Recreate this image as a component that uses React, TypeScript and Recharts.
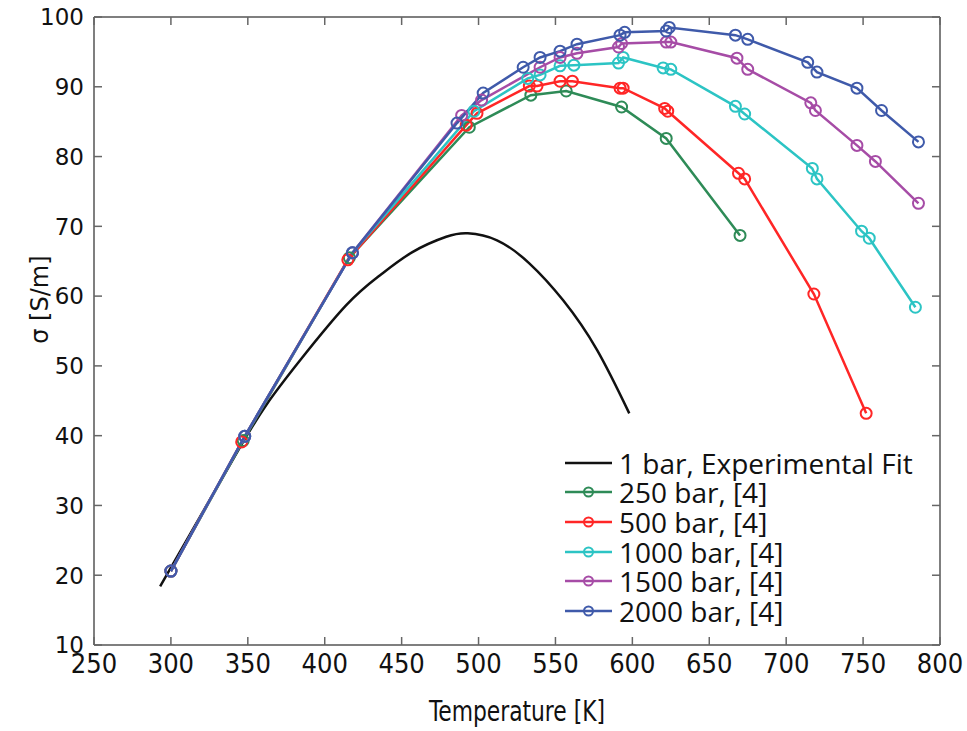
import React from "react";
import { LineChart, Line, XAxis, YAxis, Legend } from "recharts";

// temperature [K], sigma [S/m]
const fit1bar = [
  [293, 18.4], [319, 28.4], [344, 38.0], [362, 44.4], [384, 50.8], [414, 58.7],
  [436, 63.0], [457, 66.3], [479, 68.5], [493, 69.0], [512, 68.0], [533, 64.7],
  [555, 59.4], [577, 52.3], [598, 43.2],
];
const bar250 = [
  [300, 20.6], [347, 39.3], [416, 65.5], [494, 84.2], [534, 88.8], [557, 89.4],
  [593, 87.1], [622, 82.6], [670, 68.7],
];
const bar500 = [
  [300, 20.6], [346, 39.1], [415, 65.2], [492, 84.5], [499, 86.2], [533, 90.1],
  [538, 90.1], [553, 90.8], [561, 90.8], [592, 89.8], [594, 89.8], [621, 86.9],
  [623, 86.5], [669, 77.6], [673, 76.8], [718, 60.3], [752, 43.2],
];
const bar1000 = [
  [300, 20.6], [348, 39.9], [418, 66.2], [497, 86.5], [532, 91.2], [540, 91.7],
  [553, 93.0], [562, 93.1], [591, 93.4], [594, 94.2], [620, 92.7], [625, 92.5],
  [667, 87.2], [673, 86.1], [717, 78.3], [720, 76.8], [749, 69.3], [754, 68.3],
  [784, 58.4],
];
const bar1500 = [
  [300, 20.6], [348, 39.9], [418, 66.2], [489, 85.9], [502, 88.1], [540, 92.8],
  [553, 94.2], [564, 94.8], [591, 95.7], [593, 96.2], [622, 96.4], [625, 96.4],
  [668, 94.1], [675, 92.5], [716, 87.7], [719, 86.6], [746, 81.6], [758, 79.3],
  [786, 73.3],
];
const bar2000 = [
  [300, 20.6], [348, 39.9], [418, 66.2], [486, 84.8], [503, 89.1], [529, 92.8],
  [540, 94.2], [553, 95.1], [564, 96.1], [592, 97.4], [595, 97.8], [622, 98.0],
  [624, 98.5], [667, 97.4], [675, 96.8], [714, 93.5], [720, 92.1], [746, 89.8],
  [762, 86.6], [786, 82.1],
];

const seriesNames = [
  "1 bar, Experimental Fit",
  "250 bar, [4]",
  "500 bar, [4]",
  "1000 bar, [4]",
  "1500 bar, [4]",
  "2000 bar, [4]",
];
const seriesData = [fit1bar, bar250, bar500, bar1000, bar1500, bar2000];
const seriesColors = ["#111111", "#2e8b57", "#ff2626", "#2cc4c4", "#a64ca6", "#3f5aaa"];

const xTicks = [250, 300, 350, 400, 450, 500, 550, 600, 650, 700, 750, 800];
const yTicks = [10, 20, 30, 40, 50, 60, 70, 80, 90, 100];

const narrow = "'Liberation Sans Narrow', 'DejaVu Sans Condensed', sans-serif";
const frame = { stroke: "#555", strokeWidth: 1.5 };
const TICK = 8; // inward tick length
const tickColor = "#666";
const tickW = 1.5;

const toPoints = (rows: number[][]) => rows.map(([t, s]) => ({ t, s }));

// tick marks point into the plot, so they are drawn together with the labels
const BottomTick = (p: any) => (
  <g>
    <line x1={p.x} x2={p.x} y1={p.y - 8} y2={p.y - 8 - TICK} stroke={tickColor} strokeWidth={tickW} />
    <text x={p.x} y={p.y} dy="0.75em" textAnchor="middle" fontFamily={narrow} fontSize={27} fill="#111">
      {p.payload.value}
    </text>
  </g>
);
const TopTick = (p: any) => (
  <line x1={p.x} x2={p.x} y1={p.y} y2={p.y + TICK} stroke={tickColor} strokeWidth={tickW} />
);
const LeftTick = (p: any) => (
  <g>
    <line x1={p.x + 10} x2={p.x + 10 + TICK} y1={p.y} y2={p.y} stroke={tickColor} strokeWidth={tickW} />
    <text x={p.x} y={p.y} dy="0.36em" textAnchor="end" fontFamily="'DejaVu Sans', sans-serif" fontSize={23} fill="#111">
      {p.payload.value}
    </text>
  </g>
);
const RightTick = (p: any) => (
  <line x1={p.x} x2={p.x - TICK} y1={p.y} y2={p.y} stroke={tickColor} strokeWidth={tickW} />
);

function LegendBox() {
  return (
    <div style={{ fontFamily: "'Open Sans', sans-serif", fontSize: 28, color: "#111" }}>
      {seriesNames.map((name, i) => (
        <div key={name} style={{ display: "flex", alignItems: "center", height: 29.6 }}>
          <svg width={54} height={20} style={{ flex: "none" }}>
            <line x1={0} x2={47} y1={10} y2={10} stroke={seriesColors[i]} strokeWidth={2.5} />
            {i > 0 && (
              <circle cx={23.5} cy={10} r={4.5} fill="none" stroke={seriesColors[i]} strokeWidth={2} />
            )}
          </svg>
          <span style={{ lineHeight: 1, whiteSpace: "nowrap" }}>{name}</span>
        </div>
      ))}
    </div>
  );
}

export default function App() {
  return (
    <div style={{ position: "absolute", left: 0, top: 0, width: 967, height: 731, background: "#fff" }}>
      <LineChart width={967} height={731} margin={{ top: 16, right: 26, bottom: 0, left: 0 }}>
        <XAxis
          xAxisId="b"
          type="number"
          dataKey="t"
          domain={[250, 800]}
          ticks={xTicks}
          interval={0}
          allowDataOverflow
          height={86}
          tickSize={0}
          tickMargin={8}
          axisLine={frame}
          tickLine={false}
          tick={BottomTick}
          label={{
            content: (p: any) => (
              <text
                x={p.viewBox.x + p.viewBox.width / 2}
                y={721}
                textAnchor="middle"
                fontFamily={narrow}
                fontSize={28}
                textLength={176}
                lengthAdjust="spacingAndGlyphs"
                fill="#111"
              >
                Temperature [K]
              </text>
            ),
          }}
        />
        <XAxis
          xAxisId="top"
          orientation="top"
          type="number"
          dataKey="t"
          domain={[250, 800]}
          ticks={xTicks}
          interval={0}
          allowDataOverflow
          height={1}
          tickSize={0}
          tickMargin={0}
          tick={TopTick}
          axisLine={frame}
          tickLine={false}
        />
        <YAxis
          yAxisId="l"
          type="number"
          domain={[10, 100]}
          ticks={yTicks}
          interval={0}
          allowDataOverflow
          width={94}
          tickSize={0}
          tickMargin={10}
          axisLine={frame}
          tickLine={false}
          tick={LeftTick}
          label={{
            content: (p: any) => {
              const cy = p.viewBox.y + p.viewBox.height * 0.45;
              return (
                <text
                  x={40}
                  y={cy}
                  transform={`rotate(-90, 40, ${cy})`}
                  textAnchor="middle"
                  dominantBaseline="central"
                  fontFamily="'DejaVu Sans', sans-serif"
                  fontSize={24}
                  fill="#111"
                >
                  σ [S/m]
                </text>
              );
            },
          }}
        />
        <YAxis
          yAxisId="r"
          orientation="right"
          type="number"
          domain={[10, 100]}
          ticks={yTicks}
          interval={0}
          allowDataOverflow
          width={1}
          tickSize={0}
          tickMargin={0}
          tick={RightTick}
          axisLine={frame}
          tickLine={false}
        />
        {seriesData.map((rows, i) => (
          <Line
            key={seriesNames[i]}
            xAxisId="b"
            yAxisId="l"
            data={toPoints(rows)}
            dataKey="s"
            name={seriesNames[i]}
            type={i === 0 ? "natural" : "linear"}
            stroke={seriesColors[i]}
            strokeWidth={2.5}
            dot={i === 0 ? false : { r: 5.5, fill: "none", stroke: seriesColors[i], strokeWidth: 2 }}
            activeDot={false}
            isAnimationActive={false}
          />
        ))}
        <Legend
          layout="vertical"
          align="center"
          verticalAlign="middle"
          content={() => <LegendBox />}
          wrapperStyle={{ position: "absolute", left: 565, top: 448, width: 380 }}
        />
      </LineChart>
    </div>
  );
}
